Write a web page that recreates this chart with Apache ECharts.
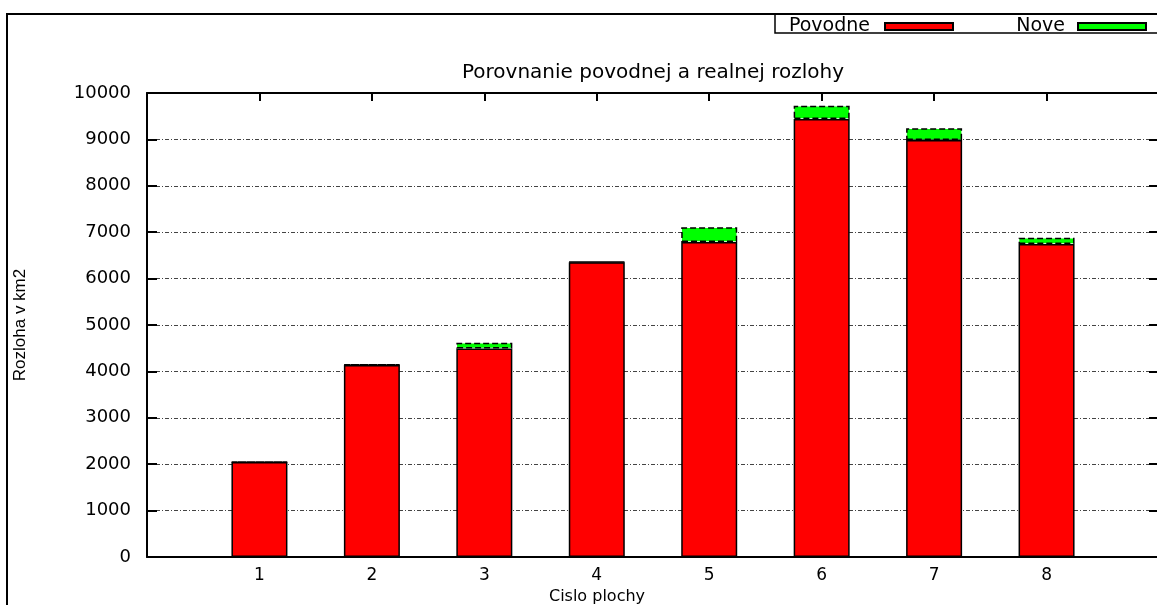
<!DOCTYPE html>
<html>
<head>
<meta charset="utf-8">
<title>Porovnanie povodnej a realnej rozlohy</title>
<script src="https://cdn.jsdelivr.net/npm/echarts@6/dist/echarts.min.js"></script>
<style>
  html, body { margin: 0; padding: 0; background: #fff; }
  #chart { width: 1157px; height: 605px; }
</style>
</head>
<body>
<div id="chart"></div>
<script>
// Plot numbers
const plochy = ['1', '2', '3', '4', '5', '6', '7', '8'];
// Original area of each plot, km2
const povodne = [2045, 4140, 4495, 6350, 6790, 9440, 8985, 6745];
// Added area on top of the original, km2
const nove = [8, 8, 120, 12, 315, 285, 255, 135];
// Y tick values
const yTicks = [0, 1000, 2000, 3000, 4000, 5000, 6000, 7000, 8000, 9000, 10000];

const FONT = 'DejaVu Sans';
const chart = echarts.init(document.getElementById('chart'), null, { renderer: 'canvas' });

// The x range runs one slot past each end (0 .. 9); the plots sit on 1 .. 8.
const xSlots = ['0'].concat(plochy, ['9']);
const pad = arr => [null].concat(arr, [null]);

const xAxisBase = {
  type: 'category',
  data: xSlots,
  boundaryGap: false,
  axisLine: { show: true, onZero: false, lineStyle: { color: '#000', width: 2 } },
  axisTick: { show: true, inside: true, length: 8, alignWithLabel: true, lineStyle: { color: '#000', width: 2 } },
  splitLine: { show: false }
};

const yAxisBase = {
  type: 'value',
  min: yTicks[0],
  max: yTicks[yTicks.length - 1],
  interval: 1000,
  axisLine: { show: true, onZero: false, lineStyle: { color: '#000', width: 2 } },
  axisTick: { show: true, inside: true, length: 10, lineStyle: { color: '#000', width: 2 } }
};

const option = {
  animation: false,
  backgroundColor: '#fff',
  title: {
    text: 'Porovnanie povodnej a realnej rozlohy',
    left: 653,
    textAlign: 'center',
    top: 63,
    padding: 0,
    textStyle: { fontFamily: FONT, fontSize: 20, fontWeight: 'normal', color: '#000' }
  },
  legend: [
    {
      data: ['Povodne'],
      right: 203,
      top: 17,
      padding: 0,
      align: 'right',
      icon: 'rect',
      itemWidth: 68,
      itemHeight: 7,
      textStyle: { fontFamily: FONT, fontSize: 19, color: '#000', padding: [0, 10, 0, 0] }
    },
    {
      data: ['Nove'],
      right: 10,
      top: 17,
      padding: 0,
      align: 'right',
      icon: 'rect',
      itemWidth: 68,
      itemHeight: 7,
      textStyle: { fontFamily: FONT, fontSize: 19, color: '#000', padding: [0, 8, 0, 0] }
    }
  ],
  grid: {
    left: 147, top: 93, width: 1012, bottom: 48,
    containLabel: false,
    outerBoundsMode: 'none'
  },
  xAxis: [
    Object.assign({}, xAxisBase, {
      position: 'bottom',
      axisLabel: {
        margin: 10,
        fontFamily: FONT,
        fontSize: 17,
        color: '#000',
        formatter: (v, i) => (i >= 1 && i <= plochy.length) ? plochy[i - 1] : ''
      }
    }),
    Object.assign({}, xAxisBase, {
      position: 'top',
      axisLabel: { show: false }
    })
  ],
  yAxis: [
    Object.assign({}, yAxisBase, {
      position: 'left',
      name: 'Rozloha v km2',
      nameLocation: 'middle',
      nameRotate: 90,
      nameGap: 118,
      nameTextStyle: { fontFamily: 'Liberation Sans', fontSize: 17, color: '#000' },
      axisLabel: { margin: 16, fontFamily: FONT, fontSize: 18, color: '#000', formatter: v => String(v) },
      splitLine: { show: true, lineStyle: { color: '#444', width: 1, type: [4, 2, 1, 2] } }
    }),
    Object.assign({}, yAxisBase, {
      position: 'right',
      axisLabel: { show: false },
      splitLine: { show: false }
    })
  ],
  series: [
    {
      name: 'Povodne',
      type: 'bar',
      stack: 'rozloha',
      xAxisIndex: 0,
      yAxisIndex: 0,
      barWidth: 56,
      data: pad(povodne),
      itemStyle: { color: '#ff0000', borderColor: '#000', borderWidth: 1.5 }
    },
    {
      name: 'Nove',
      type: 'bar',
      stack: 'rozloha',
      xAxisIndex: 0,
      yAxisIndex: 0,
      barWidth: 56,
      data: pad(nove),
      itemStyle: { color: '#00ff00', borderColor: '#000', borderWidth: 1.5, borderType: [6, 3] }
    }
  ],
  graphic: [
    {
      type: 'rect',
      silent: true,
      shape: { x: 7, y: 14, width: 1200, height: 700 },
      style: { fill: 'none', stroke: '#000', lineWidth: 2 }
    },
    {
      type: 'rect',
      silent: true,
      shape: { x: 775, y: 14, width: 420, height: 19 },
      style: { fill: 'none', stroke: '#000', lineWidth: 1.5 }
    },
    {
      type: 'text',
      silent: true,
      x: 597,
      y: 589,
      style: {
        text: 'Cislo plochy',
        align: 'center',
        fontFamily: FONT,
        fontSize: 16,
        fill: '#000'
      }
    }
  ]
};

chart.setOption(option);
</script>
</body>
</html>
